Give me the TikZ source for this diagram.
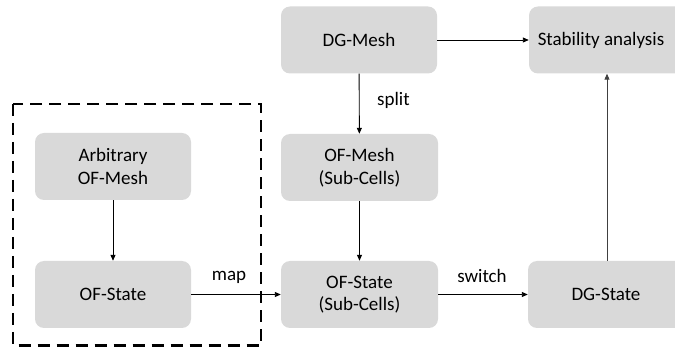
\documentclass[tikz,border=0pt]{standalone}
\usepackage{fontspec}
\setmainfont{Carlito}
\usetikzlibrary{arrows.meta}
\definecolor{boxgray}{HTML}{D9D9D9}
\tikzset{
  stepbox/.style={fill=boxgray, rounded corners=9pt, minimum width=156pt, minimum height=67pt, inner sep=0pt, align=center, font=\fontsize{19}{22.5}\selectfont},
  conn/.style={line width=0.9pt, -{Triangle[length=6pt,width=5pt]}},
  lbl/.style={font=\fontsize{19}{22.5}\selectfont, inner sep=0pt},
}
\begin{document}
\begin{tikzpicture}[x=1pt,y=-1pt]
\useasboundingbox (0,0) rectangle (675,347);
\clip (0,0) rectangle (675,347);
\node[stepbox] (arb) at (113,166.5) {Arbitrary\\OF-Mesh};
\node[stepbox] (ofs) at (113,294.5) {OF-State};
\node[stepbox] (dgm) at (359,40) {DG-Mesh};
\node[stepbox, minimum width=157pt] (ofm) at (359.5,167.5) {OF-Mesh\\(Sub-Cells)};
\node[stepbox, minimum width=157pt] (ofss) at (359.5,294.5) {OF-State\\(Sub-Cells)};
\node[stepbox] (stab) at (607,40) {Stability analysis\hspace*{12pt}};
\node[stepbox] (dgs) at (606,294.5) {DG-State};
\draw[line width=2.5pt, dash pattern=on 12pt off 7pt] (13,104) rectangle (261,345.5);
\draw[conn] (arb) -- (ofs);
\draw[conn] (dgm) -- (ofm);
\draw[conn] (ofm) -- (ofss);
\draw[conn] (dgm) -- (stab);
\draw[conn] (ofs) -- (ofss);
\draw[conn] (ofss) -- (dgs);
\draw[conn, draw=black!75] (dgs.north -| stab.south) -- (stab.south);
\node[lbl, anchor=west] (split) at (377,100) {split};
\node[lbl] (map) at (229,277) {map};
\node[lbl] (switch) at (482,276) {switch};
\end{tikzpicture}
\end{document}
